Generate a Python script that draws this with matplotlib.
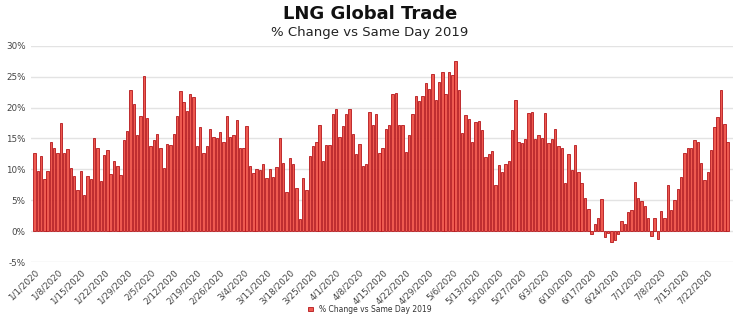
import matplotlib.pyplot as plt
import numpy as np
import pandas as pd

# daily % change vs same day 2019, 1/1/2020 - 7/28/2020
vals = [12.7, 9.7, 12.1, 8.5, 9.8, 14.5, 13.5, 12.6, 17.5, 12.7,
        13.3, 10.3, 9.0, 6.6, 9.7, 5.8, 8.9, 8.4, 15.0, 13.4,
        8.2, 12.4, 13.2, 9.2, 11.4, 10.5, 9.1, 14.7, 16.2, 22.8,
        20.5, 15.5, 18.7, 25.1, 18.3, 13.8, 14.7, 15.7, 13.5, 10.2,
        14.1, 14.0, 15.7, 18.6, 22.7, 20.9, 19.4, 22.2, 21.7, 13.8,
        16.9, 12.7, 13.8, 16.5, 15.3, 15.1, 16.0, 14.4, 18.6, 15.2,
        15.6, 18.0, 13.5, 13.4, 17.0, 10.5, 9.4, 10.1, 9.9, 10.8,
        8.6, 10.0, 8.7, 10.4, 15.0, 11.1, 6.3, 11.8, 10.8, 7.0,
        1.9, 8.6, 6.6, 12.1, 13.7, 14.5, 17.2, 11.3, 13.9, 14.0,
        19.0, 19.7, 15.2, 17.0, 18.9, 19.8, 15.8, 12.5, 14.1, 10.5,
        10.8, 19.3, 17.2, 18.9, 12.7, 13.4, 16.5, 17.2, 22.2, 22.4,
        17.2, 17.2, 12.8, 15.6, 19.0, 21.8, 21.0, 21.8, 24.0, 23.0,
        25.4, 21.3, 24.2, 25.7, 22.2, 25.7, 25.3, 27.6, 22.8, 15.9,
        18.8, 18.1, 14.4, 17.6, 17.9, 16.4, 12.0, 12.5, 13.0, 7.4,
        10.7, 9.6, 10.8, 11.4, 16.3, 21.3, 14.5, 14.2, 14.9, 19.1,
        19.2, 14.9, 15.6, 15.0, 19.1, 14.2, 14.9, 16.5, 13.8, 13.5,
        7.8, 12.5, 9.9, 13.9, 9.6, 7.8, 5.4, 3.6, -0.4, 1.2,
        2.1, 5.2, -1.0, -0.3, -1.7, -1.5, -0.5, 1.6, 1.1, 3.1,
        3.5, 8.0, 5.4, 4.9, 4.0, 2.2, -0.7, 2.2, -1.3, 3.2,
        2.1, 7.5, 3.4, 5.1, 6.8, 8.7, 12.7, 13.5, 13.5, 14.7,
        14.4, 11.0, 8.3, 9.6, 13.1, 16.8, 18.4, 22.9, 17.3, 14.4]
dates = pd.date_range("2020-01-01", periods=len(vals), freq="D")
tick_idx = np.arange(0, len(vals), 7)
tick_labels = [f"{d.month}/{d.day}/{d.year}" for d in dates[tick_idx]]
series_name = "% Change vs Same Day 2019"

fig = plt.figure(figsize=(7.4, 3.22), dpi=100)
ax = fig.add_axes([0.042, 0.186, 0.948, 0.672])

x = np.arange(len(vals))
ax.bar(x, vals, width=0.72, color="#ee5a50", edgecolor="#b5161b",
       linewidth=0.6, label=series_name, zorder=3)

ax.set_ylim(-5, 30)
ax.set_yticks(np.arange(-5, 31, 5))
ax.set_yticklabels([f"{v}%" for v in range(-5, 31, 5)])
ax.set_xlim(-1, len(vals) + 0.5)
ax.set_xticks(tick_idx)
ax.set_xticklabels(tick_labels, rotation=45, ha="right", rotation_mode="anchor")
ax.tick_params(axis="both", length=0, labelsize=6.3, labelcolor="#444444", pad=4)
ax.grid(axis="y", color="#e3e3e3", linewidth=1, zorder=0)
for s in ax.spines.values():
    s.set_visible(False)

fig.text(0.5, 0.955, "LNG Global Trade", ha="center", va="center",
         fontsize=13, fontweight="bold", color="#111111")
fig.text(0.5, 0.898, series_name, ha="center", va="center",
         fontsize=9.5, color="#222222")

fig.legend(loc="center", bbox_to_anchor=(0.5, 0.04), frameon=False,
           fontsize=5.5, handlelength=0.6, handleheight=0.6,
           labelcolor="#333333")

fig.savefig("out.png", dpi=100)
